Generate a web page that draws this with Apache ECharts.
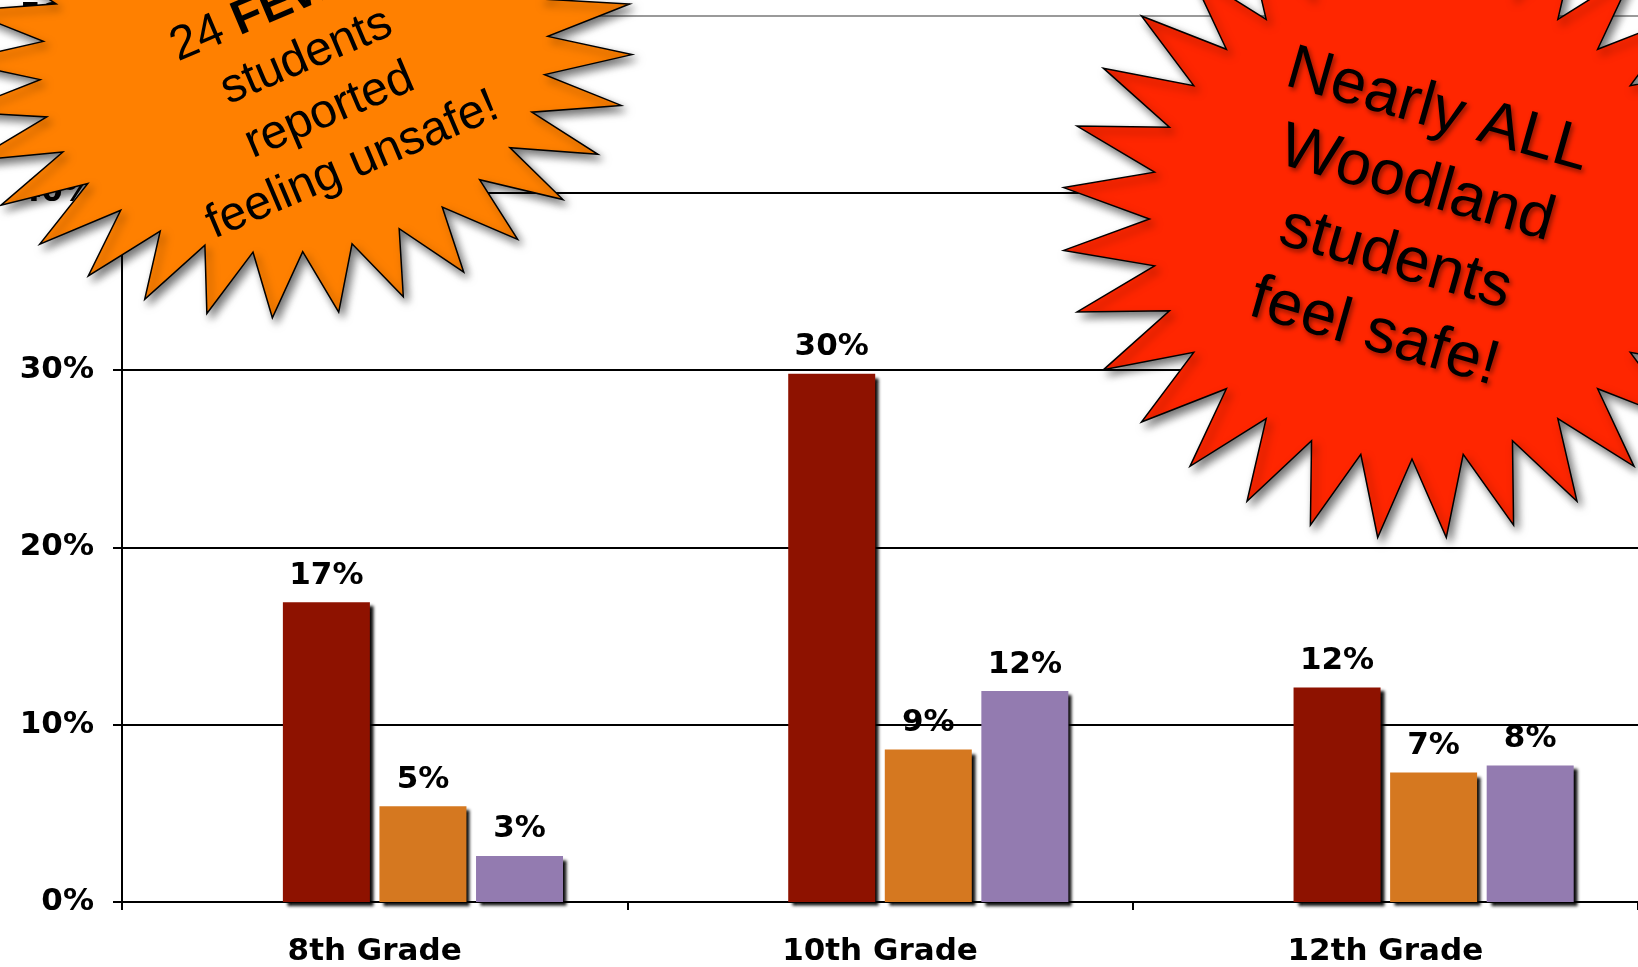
<!DOCTYPE html>
<html>
<head>
<meta charset="utf-8">
<script src="https://cdn.jsdelivr.net/npm/echarts@6/dist/echarts.min.js"></script>
<style>html,body{margin:0;padding:0;background:#fff;}#c{width:1638px;height:967px;}</style>
</head>
<body>
<div id="c"></div>
<script>
// ---- data ----
const categories = ['8th Grade', '10th Grade', '12th Grade'];
const blankSeries = [null, null, null];          // empty first series slot in the original chart
const seriesA = [16.9, 29.8, 12.1];              // dark red
const seriesB = [5.4, 8.6, 7.3];                 // orange
const seriesC = [2.6, 11.9, 7.7];                // purple
const yTicks = [0, 10, 20, 30, 40, 50];

const orangeText = '24 {b|FEWER}\nstudents\nreported\nfeeling unsafe!';
const redText = 'Nearly ALL\nWoodland\nstudents\nfeel safe!';

function starPoints(rx, ry, n, inner, offsetDeg) {
  const pts = [];
  for (let i = 0; i < 2 * n; i++) {
    const t = (offsetDeg + i * 180 / n - 90) * Math.PI / 180;
    const r = i % 2 === 0 ? 1 : inner;
    pts.push([rx * r * Math.cos(t), ry * r * Math.sin(t)]);
  }
  return pts;
}
const deg = Math.PI / 180;

const labelFont = { fontFamily: 'DejaVu Sans', fontWeight: 'bold', fontSize: 31, color: '#000' };

function barSeries(name, data, color) {
  return {
    name: name, type: 'bar', data: data,
    barWidth: 87, barGap: '11%',
    itemStyle: { color: color, shadowColor: 'rgba(0,0,0,0.95)', shadowBlur: 3, shadowOffsetX: 4, shadowOffsetY: 4 },
    label: {
      show: true, position: 'top', distance: 11,
      formatter: p => Math.round(p.value) + '%',
      ...labelFont
    }
  };
}

const starShadow = { shadowBlur: 8, shadowOffsetX: 4, shadowOffsetY: 5, shadowColor: 'rgba(0,0,0,0.55)' };

const chart = echarts.init(document.getElementById('c'), null, { renderer: 'canvas' });
chart.setOption({
  animation: false,
  backgroundColor: '#fff',
  grid: { left: 122, right: -1, top: 10.4, bottom: 64.5, containLabel: false },
  xAxis: {
    type: 'category', data: categories,
    axisLine: { lineStyle: { color: '#000', width: 2 } },
    axisTick: { show: true, alignWithLabel: false, length: 8, lineStyle: { color: '#000', width: 2 } },
    axisLabel: { margin: 34, ...labelFont }
  },
  yAxis: {
    type: 'value', min: 0, max: 50, interval: 10,
    axisLine: { show: true, lineStyle: { color: '#000', width: 2 } },
    axisTick: { show: true, length: 9, lineStyle: { color: '#000', width: 2 } },
    axisLabel: { margin: 28, formatter: v => v + '%', ...labelFont },
    splitLine: { show: true, lineStyle: { color: yTicks.map(v => v === 50 ? '#9a9a9a' : '#000'), width: 2 } }
  },
  series: [
    barSeries('blank', blankSeries, '#ffffff'),
    barSeries('A', seriesA, '#8E1200'),
    barSeries('B', seriesB, '#D57820'),
    barSeries('C', seriesC, '#937BB0')
  ],
  graphic: {
    elements: [
      {
        type: 'polygon', x: 294, y: 58, rotation: 8 * deg, z: 200, zlevel: 1,
        shape: { points: starPoints(340, 258, 32, 0.75, -1.5) },
        style: Object.assign({ fill: '#FF8000', stroke: '#000', lineWidth: 1.5 }, starShadow)
      },
      {
        type: 'text', x: 318, y: 84, rotation: 23 * deg, z: 201, zlevel: 1,
        style: {
          text: orangeText, fill: '#000', align: 'center', verticalAlign: 'middle',
          fontFamily: 'Liberation Sans', fontSize: 48, lineHeight: 59,
          rich: { b: { fontFamily: 'Liberation Sans', fontWeight: 'bold', fontSize: 48, lineHeight: 59, fill: '#000' } }
        }
      },
      {
        type: 'polygon', x: 1412, y: 219, rotation: 0, z: 200, zlevel: 1,
        shape: { points: starPoints(350, 320, 32, 0.75, 5.625) },
        style: Object.assign({ fill: '#FF2600', stroke: '#000', lineWidth: 1.5 }, starShadow)
      },
      {
        type: 'text', x: 1406, y: 222, rotation: -16 * deg, z: 201, zlevel: 1,
        style: {
          text: redText, fill: '#000', align: 'center', verticalAlign: 'middle',
          fontFamily: 'Liberation Sans', fontSize: 63, lineHeight: 77,
          textShadowColor: 'rgba(0,0,0,0.45)', textShadowBlur: 5, textShadowOffsetX: 2, textShadowOffsetY: 3
        }
      }
    ]
  }
});
</script>
</body>
</html>
